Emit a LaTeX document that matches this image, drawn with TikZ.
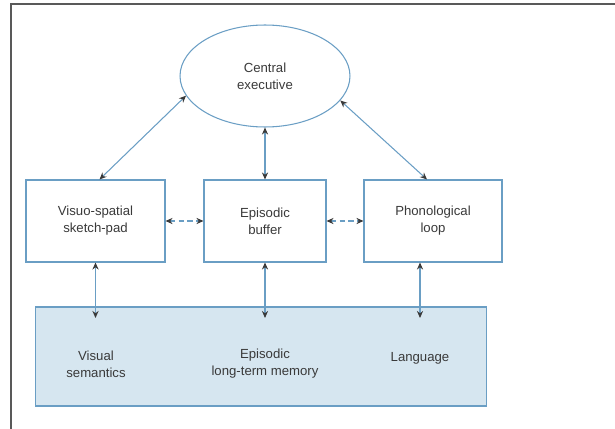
\documentclass[tikz,border=0pt]{standalone}
\usepackage{fontspec}
\setmainfont{Liberation Sans}
\usetikzlibrary{shapes.geometric,arrows.meta}
\definecolor{lineblue}{HTML}{6A9EC4}
\definecolor{fillblue}{HTML}{D6E6F0}
\definecolor{txtgray}{HTML}{3A3A3A}
\begin{document}
\begin{tikzpicture}[x=0.02cm, y=-0.02cm,
      every node/.style={font=\fontsize{7.5}{9.6}\selectfont, text=txtgray},
      part/.style={rectangle, draw=lineblue, line width=0.6pt, fill=white, minimum height=1.64cm, align=center},
      exec/.style={ellipse, draw=lineblue, line width=0.6pt, minimum width=3.4cm, minimum height=2.04cm, align=center},
      store/.style={rectangle, draw=lineblue, line width=0.6pt, fill=fillblue, minimum width=9.04cm, minimum height=1.98cm},
      label/.style={align=center},
      link/.style={draw=lineblue, line width=0.6pt, {Stealth[length=4pt,width=3.5pt,color=txtgray]}-{Stealth[length=4pt,width=3.5pt,color=txtgray]}},
      dlink/.style={link, dashed, dash pattern=on 3pt off 2pt}
  ]
    \useasboundingbox (0,0) rectangle (615,429);
    \draw[line width=1.3pt, gray!70!black] (11,429) -- (11,4) -- (615,4);

    \node[exec] (ce) at (265,76) {Central\\executive};
    \node[part, minimum width=2.78cm] (vs) at (95.5,221) {Visuo-spatial\\sketch-pad};
    \node[part, minimum width=2.44cm] (eb) at (265,221) {Episodic\\buffer};
    \node[part, minimum width=2.76cm] (pl) at (433,221) {Phonological\\loop};
    \node[store] (ltm) at (261,356.5) {};

    \node[label] (vsem) at (96,364) {Visual\\semantics};
    \node[label] (eltm) at (265,364) {Episodic\\long-term memory};
    \node[label] (lang) at (420,358) {Language};

    \coordinate (vsend) at (vs.south |- 0,318);
    \coordinate (ebend) at (eb.south |- 0,318);
    \coordinate (plend) at ([xshift=-0.26cm]pl.south |- 0,318);

    \draw[link] (ce.194) -- ([xshift=0.08cm]vs.north);
    \draw[link] (ce.south) -- (eb.north);
    \draw[link] (ce.-18) -- ([xshift=-0.12cm]pl.north);
    \draw[dlink] (vs.east) -- (eb.west);
    \draw[dlink] (eb.east) -- (pl.west);
    \draw[link] (vs.south) -- (vsend);
    \draw[link] (eb.south) -- (ebend);
    \draw[link] ([xshift=-0.26cm]pl.south) -- (plend);
  \end{tikzpicture}
\end{document}
